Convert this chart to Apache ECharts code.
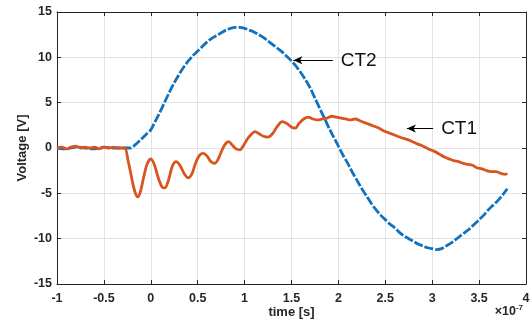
<!DOCTYPE html>
<html>
<head>
<meta charset="utf-8">
<title>CT1 / CT2 voltage</title>
<script src="https://cdn.jsdelivr.net/npm/echarts@6/dist/echarts.min.js"></script>
<style>
  html, body { margin: 0; padding: 0; background: #fff; }
  #chart { width: 532px; height: 320px; }
</style>
</head>
<body>
<div id="chart"></div>
<script>
// time in units of 1e-7 s, voltage in V
const ct2Time = [-1.00, -0.90, -0.80, -0.70, -0.60, -0.50, -0.40, -0.30, -0.22, -0.15, -0.10, -0.05,
  0.00, 0.05, 0.10, 0.15, 0.20, 0.25, 0.30, 0.35, 0.40, 0.45, 0.50, 0.55, 0.60, 0.65, 0.70, 0.75,
  0.80, 0.85, 0.90, 0.95, 1.00, 1.05, 1.10, 1.15, 1.20, 1.25, 1.30, 1.35, 1.40, 1.45, 1.50, 1.55,
  1.60, 1.65, 1.70, 1.75, 1.80, 1.85, 1.90, 1.95, 2.00, 2.05, 2.10, 2.15, 2.20, 2.25, 2.30, 2.35,
  2.40, 2.45, 2.50, 2.55, 2.60, 2.65, 2.70, 2.75, 2.80, 2.85, 2.90, 2.95, 3.00, 3.05, 3.10, 3.15,
  3.20, 3.25, 3.30, 3.35, 3.40, 3.45, 3.50, 3.55, 3.60, 3.65, 3.70, 3.75, 3.80];
const ct2Volt = [0, -0.1, 0.1, 0, -0.1, 0.1, 0, 0, 0, 0.5, 1.0, 1.5,
  2.0, 3.0, 4.0, 5.1, 6.2, 7.2, 8.1, 8.9, 9.6, 10.2, 10.7, 11.2, 11.7, 12.1, 12.4, 12.7,
  13.0, 13.2, 13.3, 13.3, 13.2, 13.0, 12.8, 12.5, 12.2, 11.8, 11.4, 11.0, 10.6, 10.1, 9.6, 9.0,
  8.3, 7.5, 6.6, 5.5, 4.4, 3.3, 2.2, 1.2, 0.2, -0.8, -1.7, -2.7, -3.6, -4.5, -5.3, -6.1,
  -6.8, -7.4, -7.9, -8.4, -8.8, -9.3, -9.7, -10.0, -10.3, -10.6, -10.8, -11.0, -11.1, -11.2, -11.1, -10.8,
  -10.5, -10.1, -9.7, -9.3, -8.9, -8.4, -7.9, -7.4, -6.8, -6.3, -5.8, -5.2, -4.5];

const ct1Time = [-1.00, -0.95, -0.90, -0.85, -0.80, -0.75, -0.70, -0.65, -0.60, -0.55, -0.50, -0.45,
  -0.40, -0.35, -0.28, -0.24, -0.20, -0.17, -0.14, -0.11, -0.08, -0.04, 0.00, 0.04, 0.08, 0.12,
  0.15, 0.19, 0.23, 0.27, 0.31, 0.36, 0.40, 0.44, 0.48, 0.52, 0.56, 0.60, 0.64, 0.68, 0.72, 0.76,
  0.80, 0.83, 0.87, 0.91, 0.95, 0.99, 1.03, 1.07, 1.11, 1.15, 1.20, 1.25, 1.30, 1.35, 1.40, 1.45,
  1.50, 1.54, 1.58, 1.63, 1.68, 1.73, 1.78, 1.83, 1.88, 1.93, 1.98, 2.03, 2.08, 2.13, 2.18, 2.23,
  2.28, 2.33, 2.38, 2.43, 2.48, 2.53, 2.58, 2.63, 2.68, 2.73, 2.78, 2.83, 2.88, 2.93, 2.98, 3.03,
  3.08, 3.13, 3.18, 3.23, 3.28, 3.33, 3.38, 3.43, 3.48, 3.53, 3.58, 3.63, 3.68, 3.73, 3.78, 3.80];
const ct1Volt = [0, 0.1, -0.1, 0.1, 0.2, 0, 0.1, 0, 0.1, -0.1, 0.1, 0,
  0.1, 0, 0, -1.5, -3.5, -4.8, -5.4, -4.8, -3.4, -1.8, -1.2, -1.9, -3.3, -4.3,
  -4.4, -3.5, -2.0, -1.5, -1.9, -2.9, -3.3, -2.8, -1.6, -0.8, -0.6, -0.9, -1.5, -1.7, -1.2, -0.2,
  0.5, 0.7, 0.3, -0.1, -0.2, 0.3, 1.0, 1.5, 1.8, 1.6, 1.3, 1.2, 1.6, 2.4, 2.9, 2.7,
  2.3, 2.2, 2.7, 3.2, 3.4, 3.2, 3.1, 3.2, 3.3, 3.5, 3.4, 3.3, 3.2, 3.1, 3.2, 3.0,
  2.8, 2.6, 2.4, 2.2, 1.9, 1.7, 1.5, 1.3, 1.1, 0.95, 0.75, 0.5, 0.3, 0.05, -0.2, -0.4,
  -0.7, -1.0, -1.2, -1.4, -1.5, -1.7, -1.8, -1.9, -2.2, -2.3, -2.5, -2.6, -2.6, -2.8, -2.9, -2.8];

const xTicks = [-1, -0.5, 0, 0.5, 1, 1.5, 2, 2.5, 3, 3.5, 4];
const yTicks = [-15, -10, -5, 0, 5, 10, 15];

const zip = (xs, ys) => xs.map((x, i) => [x, ys[i]]);

const chart = echarts.init(document.getElementById('chart'));

const axisColor = '#262626';
const fontFamily = 'Liberation Sans, Arial, sans-serif';
const tickFont = { fontFamily, fontWeight: 'bold', fontSize: 12.5, color: axisColor };
const nameFont = { fontFamily, fontWeight: 'bold', fontSize: 13, color: axisColor };

const arrowLine = (from, to, text) => ({
  silent: true,
  symbol: ['none', 'arrow'],
  symbolSize: [6, 9],
  lineStyle: { color: '#000', width: 1, type: 'solid' },
  label: {
    show: true, position: 'start', formatter: text, distance: 8,
    fontFamily, fontSize: 19, color: '#111'
  },
  emphasis: { disabled: true },
  data: [[{ coord: from }, { coord: to }]]
});

chart.setOption({
  animation: false,
  title: {
    text: '{a|×10}{b|-7}',
    right: 4, bottom: -3,
    textStyle: {
      rich: {
        a: { fontFamily, fontSize: 12.5, fontWeight: 'bold', color: axisColor },
        b: { fontFamily, fontSize: 8, fontWeight: 'bold', color: axisColor, verticalAlign: 'top', padding: [0, 0, 8, 0] }
      }
    }
  },
  grid: { left: 57, right: 6, top: 12, bottom: 36, containLabel: false, outerBoundsMode: 'none' },
  xAxis: [{
    type: 'value', min: xTicks[0], max: xTicks[xTicks.length - 1], interval: 0.5,
    name: 'time [s]', nameLocation: 'middle', nameGap: 22, nameMoveOverlap: false,
    nameTextStyle: nameFont,
    axisLine: { onZero: false, lineStyle: { color: axisColor } },
    axisTick: { inside: true, length: 4, lineStyle: { color: axisColor } },
    axisLabel: Object.assign({ margin: 8 }, tickFont),
    splitLine: { show: true, lineStyle: { color: '#e3e3e3' } }
  }, {
    type: 'value', position: 'top', min: xTicks[0], max: xTicks[xTicks.length - 1], interval: 0.5,
    axisLine: { onZero: false, lineStyle: { color: axisColor } },
    axisTick: { inside: true, length: 4, lineStyle: { color: axisColor } },
    axisLabel: { show: false }, splitLine: { show: false }
  }],
  yAxis: [{
    type: 'value', min: yTicks[0], max: yTicks[yTicks.length - 1], interval: 5,
    name: 'Voltage [V]', nameLocation: 'middle', nameGap: 28, nameRotate: 90, nameMoveOverlap: false,
    nameTextStyle: nameFont,
    axisLine: { show: true, onZero: false, lineStyle: { color: axisColor } },
    axisTick: { show: true, inside: true, length: 4, lineStyle: { color: axisColor } },
    axisLabel: Object.assign({ margin: 5 }, tickFont),
    splitLine: { show: true, lineStyle: { color: '#e3e3e3' } }
  }, {
    type: 'value', position: 'right', min: yTicks[0], max: yTicks[yTicks.length - 1], interval: 5,
    axisLine: { show: true, onZero: false, lineStyle: { color: axisColor } },
    axisTick: { show: true, inside: true, length: 4, lineStyle: { color: axisColor } },
    axisLabel: { show: false }, splitLine: { show: false }
  }],
  series: [{
    name: 'CT2', type: 'line', data: zip(ct2Time, ct2Volt),
    showSymbol: false, smooth: 0.3,
    lineStyle: { color: '#1272bd', width: 2.8, type: [9, 2] },
    markLine: arrowLine([1.94, 9.67], [1.52, 9.67], 'CT2')
  }, {
    name: 'CT1', type: 'line', data: zip(ct1Time, ct1Volt),
    showSymbol: false, smooth: 0.3,
    lineStyle: { color: '#d9541e', width: 2.8 },
    markLine: arrowLine([3.01, 2.15], [2.73, 2.15], 'CT1')
  }]
});
</script>
</body>
</html>
